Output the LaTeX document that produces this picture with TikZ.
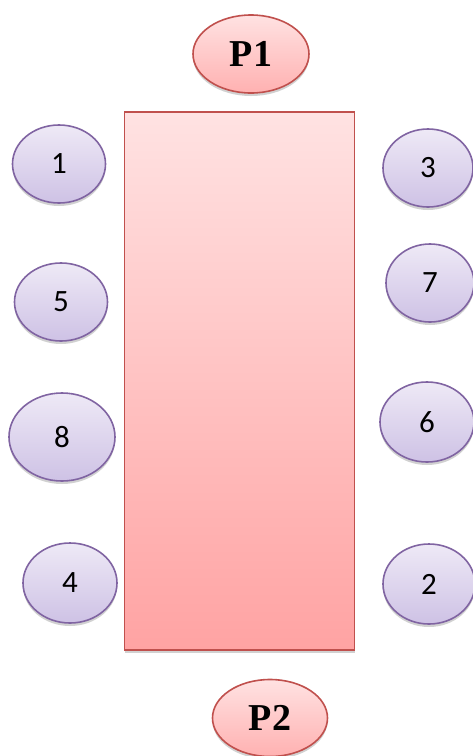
\documentclass[tikz,border=0pt]{standalone}
\usepackage{fontspec}
\setmainfont{Liberation Serif}
\newfontfamily\numfont{Carlito}
\usetikzlibrary{shapes.geometric,shadows}
\definecolor{redline}{HTML}{C0504D}
\definecolor{pinktop}{HTML}{FFE2E2}
\definecolor{pinkbot}{HTML}{FFA3A3}
\definecolor{purpline}{HTML}{8064A2}
\definecolor{purptop}{HTML}{EEE9F6}
\definecolor{purpbot}{HTML}{CEC2E5}
\tikzset{
  myshadow/.style={drop shadow={shadow xshift=0pt,shadow yshift=-3pt,opacity=0.3,fill=black!60}},
  pnode/.style={ellipse,draw=redline,line width=1.6pt,top color=pinktop,bottom color=pinkbot!85,
    minimum width=116pt,minimum height=78pt,inner sep=0pt,myshadow,
    font=\fontsize{38}{40}\selectfont\bfseries},
  seat/.style={ellipse,draw=purpline,line width=1.6pt,top color=purptop,bottom color=purpbot,
    inner sep=0pt,myshadow,font=\numfont\fontsize{31}{33}\selectfont},
  tablebox/.style={rectangle,draw=redline,line width=1.6pt,top color=pinktop,bottom color=pinkbot,
    inner sep=0pt,myshadow}
}
\begin{document}
\begin{tikzpicture}[x=1pt,y=-1pt]
\useasboundingbox (0,0) rectangle (472,756);
\node[tablebox,minimum width=230pt,minimum height=538pt] (table) at (239.5,381) {};
\node[pnode] (p1) at (251,54) {P1};
\node[pnode,minimum width=115pt,minimum height=77pt] (p2) at (270,718) {P2};
\node[seat,minimum width=93pt,minimum height=78pt] (s1) at (59,164) {1};
\node[seat,minimum width=90pt,minimum height=78pt] (s3) at (428,168) {3};
\node[seat,minimum width=93pt,minimum height=78pt] (s5) at (61,302) {5};
\node[seat,minimum width=88pt,minimum height=78pt] (s7) at (430,283) {7};
\node[seat,minimum width=106pt,minimum height=88pt] (s8) at (62,437) {8};
\node[seat,minimum width=94pt,minimum height=80pt] (s6) at (427,422) {6};
\node[seat,minimum width=94pt,minimum height=80pt] (s4) at (70,583) {4};
\node[seat,minimum width=92pt,minimum height=80pt] (s2) at (429,584) {2};
\end{tikzpicture}
\end{document}
